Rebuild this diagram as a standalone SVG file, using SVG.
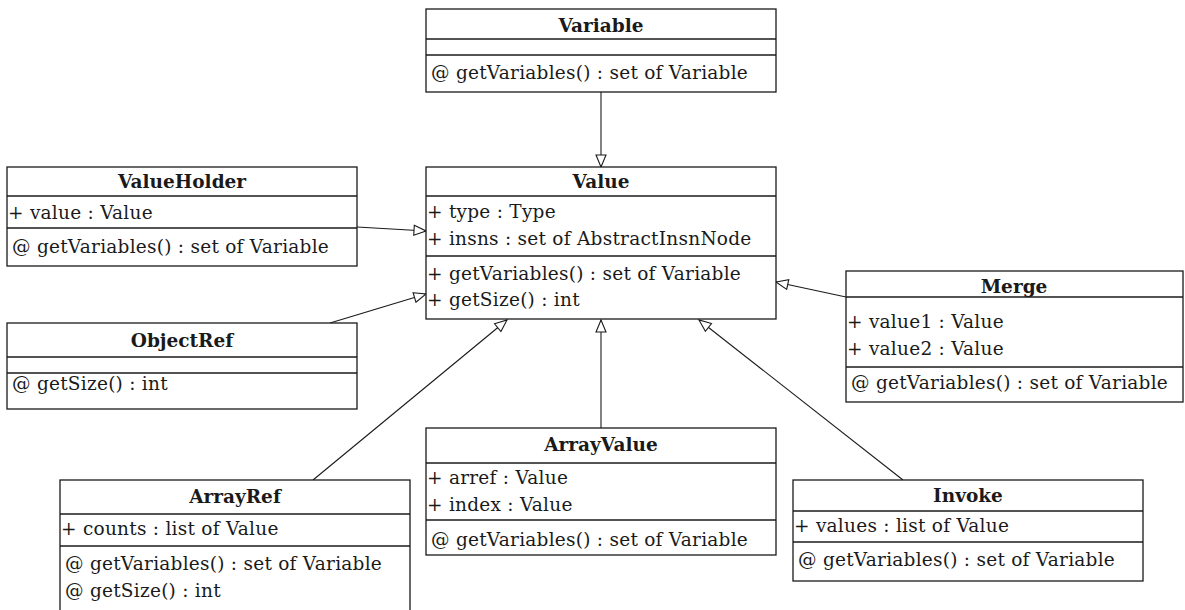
<svg xmlns="http://www.w3.org/2000/svg" width="1185" height="610" viewBox="0 0 1185 610">
<style>
  .box { fill: #ffffff; stroke: #1a1a1a; stroke-width: 1.3; }
  .sep { stroke: #1a1a1a; stroke-width: 1.3; }
  .t { font-family: "DejaVu Serif", "Liberation Serif", serif; font-size: 18.5px; letter-spacing: 0.25px; fill: #1a1a1a; }
  .h { font-family: "DejaVu Serif", "Liberation Serif", serif; font-size: 18.5px; font-weight: bold; fill: #1a1a1a; text-anchor: middle; }
  .edge { stroke: #1a1a1a; stroke-width: 1.1; fill: none; marker-end: url(#tri); }
</style>
<defs>
  <marker id="tri" markerUnits="userSpaceOnUse" markerWidth="14" markerHeight="12" refX="12" refY="5" orient="auto" viewBox="-1 -1 14 12">
    <path d="M0,0 L12,5 L0,10 Z" fill="#ffffff" stroke="#1a1a1a" stroke-width="1.1"/>
  </marker>
</defs>
<rect width="1185" height="610" fill="#ffffff"/>

<g id="connectors">
  <line class="edge" x1="601" y1="92" x2="601" y2="167"/>
  <line class="edge" x1="357" y1="227" x2="426" y2="231"/>
  <line class="edge" x1="330" y1="323" x2="426" y2="294"/>
  <line class="edge" x1="313" y1="480" x2="507" y2="320"/>
  <line class="edge" x1="601" y1="428" x2="601" y2="320"/>
  <line class="edge" x1="903" y1="480" x2="699" y2="320"/>
  <line class="edge" x1="846" y1="297" x2="776" y2="282"/>
</g>

<g id="Variable">
  <rect class="box" x="426" y="9" width="350" height="83"/>
  <line class="sep" x1="426" y1="39" x2="776" y2="39"/>
  <line class="sep" x1="426" y1="55" x2="776" y2="55"/>
  <text class="h" x="601" y="32">Variable</text>
  <text class="t" x="431" y="79">@ getVariables() : set of Variable</text>
</g>

<g id="Value">
  <rect class="box" x="426" y="167" width="350" height="152"/>
  <line class="sep" x1="426" y1="196" x2="776" y2="196"/>
  <line class="sep" x1="426" y1="256" x2="776" y2="256"/>
  <text class="h" x="601" y="188">Value</text>
  <text class="t" x="427" y="218">+ type : Type</text>
  <text class="t" x="427" y="245">+ insns : set of AbstractInsnNode</text>
  <text class="t" x="427" y="280">+ getVariables() : set of Variable</text>
  <text class="t" x="427" y="306">+ getSize() : int</text>
</g>

<g id="ValueHolder">
  <rect class="box" x="7" y="167" width="350" height="99"/>
  <line class="sep" x1="7" y1="196" x2="357" y2="196"/>
  <line class="sep" x1="7" y1="228" x2="357" y2="228"/>
  <text class="h" x="182" y="188">ValueHolder</text>
  <text class="t" x="8" y="219">+ value : Value</text>
  <text class="t" x="12" y="253">@ getVariables() : set of Variable</text>
</g>

<g id="ObjectRef">
  <rect class="box" x="7" y="323" width="350" height="86"/>
  <line class="sep" x1="7" y1="357" x2="357" y2="357"/>
  <line class="sep" x1="7" y1="373" x2="357" y2="373"/>
  <text class="h" x="182" y="347">ObjectRef</text>
  <text class="t" x="12" y="390">@ getSize() : int</text>
</g>

<g id="Merge">
  <rect class="box" x="846" y="271" width="337" height="131"/>
  <line class="sep" x1="846" y1="297" x2="1183" y2="297"/>
  <line class="sep" x1="846" y1="367" x2="1183" y2="367"/>
  <text class="h" x="1014" y="293">Merge</text>
  <text class="t" x="847" y="328">+ value1 : Value</text>
  <text class="t" x="847" y="355">+ value2 : Value</text>
  <text class="t" x="851" y="389">@ getVariables() : set of Variable</text>
</g>

<g id="ArrayRef">
  <rect class="box" x="60" y="480" width="350" height="140"/>
  <line class="sep" x1="60" y1="514" x2="410" y2="514"/>
  <line class="sep" x1="60" y1="546" x2="410" y2="546"/>
  <text class="h" x="235" y="503">ArrayRef</text>
  <text class="t" x="61" y="535">+ counts : list of Value</text>
  <text class="t" x="65" y="570">@ getVariables() : set of Variable</text>
  <text class="t" x="65" y="597">@ getSize() : int</text>
</g>

<g id="ArrayValue">
  <rect class="box" x="426" y="428" width="350" height="127"/>
  <line class="sep" x1="426" y1="463" x2="776" y2="463"/>
  <line class="sep" x1="426" y1="520" x2="776" y2="520"/>
  <text class="h" x="601" y="451">ArrayValue</text>
  <text class="t" x="427" y="484">+ arref : Value</text>
  <text class="t" x="427" y="511">+ index : Value</text>
  <text class="t" x="431" y="546">@ getVariables() : set of Variable</text>
</g>

<g id="Invoke">
  <rect class="box" x="793" y="480" width="350" height="101"/>
  <line class="sep" x1="793" y1="511" x2="1143" y2="511"/>
  <line class="sep" x1="793" y1="542" x2="1143" y2="542"/>
  <text class="h" x="968" y="502">Invoke</text>
  <text class="t" x="794" y="532">+ values : list of Value</text>
  <text class="t" x="798" y="566">@ getVariables() : set of Variable</text>
</g>
</svg>
